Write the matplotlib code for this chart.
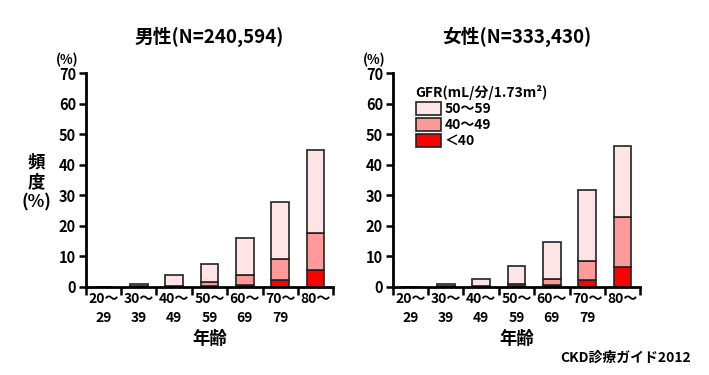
import matplotlib
matplotlib.use("Agg")
import matplotlib.pyplot as plt
from matplotlib.patches import Patch
import numpy as np

plt.rcParams["font.family"] = ["Noto Sans CJK JP", "DejaVu Sans"]
plt.rcParams["font.weight"] = "bold"

ages_top = ["20～", "30～", "40～", "50～", "60～", "70～", "80～"]
ages_bottom = ["29", "39", "49", "59", "69", "79", ""]

# GFR band shares (%) per age group
male_lt40 = [0.0, 0.1, 0.1, 0.3, 0.5, 2.3, 5.6]
male_40_49 = [0.0, 0.2, 0.2, 1.4, 3.3, 6.8, 12.2]
male_50_59 = [0.0, 0.6, 3.6, 5.8, 12.2, 18.6, 26.9]

female_lt40 = [0.0, 0.1, 0.1, 0.3, 0.6, 2.1, 6.5]
female_40_49 = [0.0, 0.2, 0.3, 0.8, 1.9, 6.3, 16.3]
female_50_59 = [0.0, 0.5, 2.2, 5.8, 12.2, 23.2, 23.2]

band_labels = ["50～59", "40～49", "＜40"]
colors = {"50～59": "#ffe4e6", "40～49": "#ff9a9a", "＜40": "#ff0000"}

fig = plt.figure(figsize=(7.09, 3.75), dpi=100)
ax_m = fig.add_axes([0.121, 0.235, 0.349, 0.570])
ax_f = fig.add_axes([0.554, 0.235, 0.349, 0.570])

x = np.arange(len(ages_top))
tick_labels = [f"{a}\n{b}" for a, b in zip(ages_top, ages_bottom)]


def draw(ax, lt40, g40, g50, title):
    lt40 = np.array(lt40)
    g40 = np.array(g40)
    g50 = np.array(g50)
    kw = dict(width=0.5, edgecolor="#222222", linewidth=1.2)
    ax.bar(x, lt40, color=colors["＜40"], **kw)
    ax.bar(x, g40, bottom=lt40, color=colors["40～49"], **kw)
    ax.bar(x, g50, bottom=lt40 + g40, color=colors["50～59"], **kw)
    ax.set_xlim(-0.5, 6.5)
    ax.set_ylim(0, 70)
    ax.set_yticks(range(0, 71, 10))
    ax.set_xticks(x)
    ax.set_xticklabels(tick_labels, fontsize=10, linespacing=1.4)
    ax.set_xticks(np.arange(-0.5, 7, 1), minor=True)
    ax.tick_params(axis="x", which="major", length=0, pad=4)
    ax.tick_params(axis="x", which="minor", length=6, width=1.8, direction="out")
    ax.tick_params(axis="y", length=5, width=1.8, labelsize=10.5, pad=2)
    for s in ["top", "right"]:
        ax.spines[s].set_visible(False)
    for s in ["left", "bottom"]:
        ax.spines[s].set_linewidth(2)
    ax.set_title(title, fontsize=13.5, fontweight="bold", pad=22)
    ax.text(-0.03, 1.03, "(%)", transform=ax.transAxes, ha="right",
            va="bottom", fontsize=9.5)
    ax.set_xlabel("年齢", fontsize=12.5, fontweight="bold", labelpad=4)


draw(ax_m, male_lt40, male_40_49, male_50_59, "男性(N=240,594)")
draw(ax_f, female_lt40, female_40_49, female_50_59, "女性(N=333,430)")

ax_m.set_ylabel("頻\n度\n(%)", rotation=0, fontsize=12.5, fontweight="bold",
                linespacing=1.15, va="center", ha="center")
ax_m.yaxis.set_label_coords(-0.2, 0.49)

handles = [Patch(facecolor=colors[b], edgecolor="#222222", linewidth=1.2)
           for b in band_labels]
leg = ax_f.legend(handles, band_labels, title="GFR(mL/分/1.73m²)",
                  loc="upper left", bbox_to_anchor=(0.07, 0.97), frameon=False,
                  fontsize=10, title_fontsize=10, handlelength=1.8,
                  handleheight=1.0, handletextpad=0.3, labelspacing=0.15,
                  borderaxespad=0)
leg._legend_box.align = "left"
leg.get_title().set_fontweight("bold")

fig.text(0.975, 0.045, "CKD診療ガイド2012", ha="right", va="center", fontsize=10)

fig.savefig("out.png", dpi=100)
